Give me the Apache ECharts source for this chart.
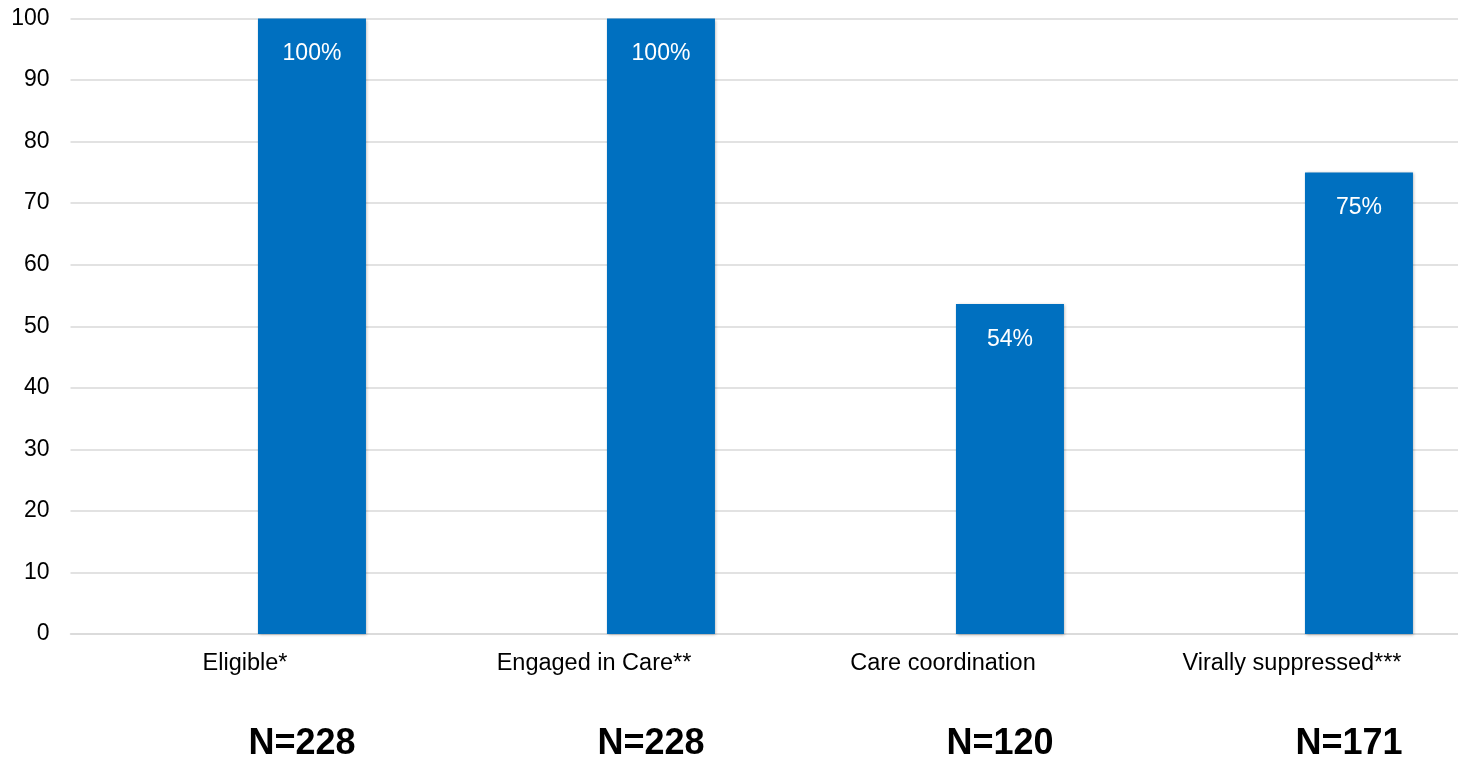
<!DOCTYPE html>
<html>
<head>
<meta charset="utf-8">
<script src="https://cdn.jsdelivr.net/npm/echarts@6/dist/echarts.min.js"></script>
<style>
  html, body { margin: 0; padding: 0; background: #fff; }
  #chart { width: 1458px; height: 764px; }
</style>
</head>
<body>
<div id="chart"></div>
<script>
// Care cascade: share of clients at each step (percent)
const categories = ['Eligible*', 'Engaged in Care**', 'Care coordination', 'Virally suppressed***'];
const percentValues = [100, 100, 53.6, 75];
const sampleSizes = ['N=228', 'N=228', 'N=120', 'N=171'];
const yTicks = { min: 0, max: 100, interval: 10 };
// empty first slot of each cluster, so the data bar sits right of the category centre
const emptySlot = [null, null, null, null];

const FONT = "'Liberation Sans', Arial, sans-serif";
const chart = echarts.init(document.getElementById('chart'), null, { renderer: 'canvas' });

chart.setOption({
  animation: false,
  backgroundColor: '#ffffff',
  grid: {
    left: 70.5, width: 1396, top: 18.5, bottom: 130,
    containLabel: false, outerBoundsMode: 'none'
  },
  xAxis: {
    type: 'category',
    data: categories,
    axisLine: { show: true, lineStyle: { color: '#d9d9d9', width: 1.5 } },
    axisTick: { show: false },
    axisLabel: { color: '#000', fontFamily: FONT, fontSize: 23.5, margin: 18, interval: 0 }
  },
  yAxis: {
    type: 'value',
    min: yTicks.min,
    max: yTicks.max,
    interval: yTicks.interval,
    axisLine: { show: false },
    axisTick: { show: false },
    axisLabel: { color: '#000', fontFamily: FONT, fontSize: 23, margin: 21 },
    splitLine: { lineStyle: { color: '#d9d9d9', width: 1.5 } }
  },
  series: [
    {
      name: 'empty',
      type: 'bar',
      data: emptySlot,
      barWidth: 108,
      barGap: '24%',
      silent: true
    },
    {
      name: 'Percent',
      type: 'bar',
      data: percentValues,
      barWidth: 108,
      barGap: '24%',
      itemStyle: {
        color: '#0070c0',
        shadowColor: 'rgba(0,0,0,0.3)',
        shadowBlur: 3,
        shadowOffsetX: 1,
        shadowOffsetY: 1
      },
      label: {
        show: true,
        position: 'insideTop',
        distance: 24,
        color: '#ffffff',
        fontFamily: FONT,
        fontSize: 23,
        formatter: p => Math.round(p.value) + '%'
      }
    }
  ]
});

// Sample-size captions below each category, placed from the axis scale
const baseY = chart.convertToPixel({ yAxisIndex: 0 }, 0);
chart.setOption({
  graphic: sampleSizes.map((txt, i) => {
    const cx = chart.convertToPixel({ xAxisIndex: 0 }, i);
    return {
      type: 'text',
      x: cx + 57,
      y: baseY + 110,
      style: {
        text: txt,
        fill: '#000',
        font: 'bold 36px ' + FONT,
        textAlign: 'center',
        textVerticalAlign: 'middle'
      }
    };
  })
});
</script>
</body>
</html>
